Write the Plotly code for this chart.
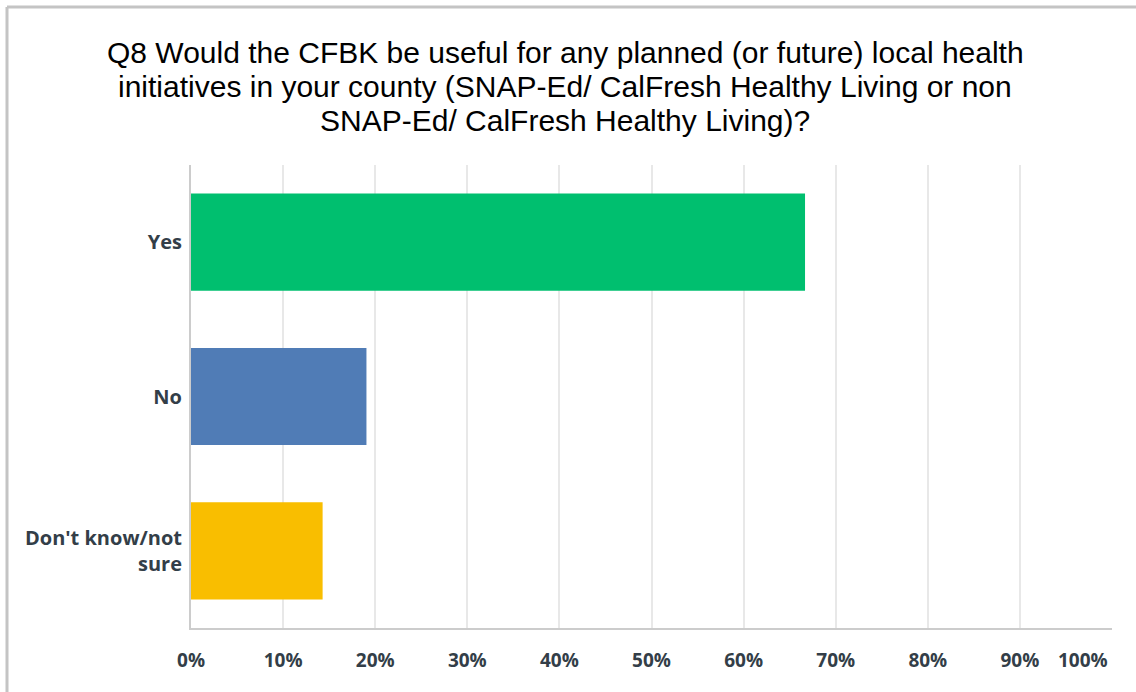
import plotly.graph_objects as go

categories = ["Yes", "No", "Don't know/not<br>sure"]
values = [66.67, 19.05, 14.29]
colors = ["#00BF6F", "#507CB6", "#F9BE00"]
tick_vals = [0, 10, 20, 30, 40, 50, 60, 70, 80, 90]
tick_text = ["0%", "10%", "20%", "30%", "40%", "50%", "60%", "70%", "80%", "90%"]
last_tick_val = 100
last_tick_text = "100%"
title_lines = [
    "Q8 Would the CFBK be useful for any planned (or future) local health",
    "initiatives in your county (SNAP-Ed/ CalFresh Healthy Living or non",
    "SNAP-Ed/ CalFresh Healthy Living)?",
]

W, H = 1136, 692
L, R, T, B = 191, 24, 165, 64
PW, PH = W - L - R, H - T - B

fig = go.Figure(go.Bar(
    x=values, y=categories, orientation="h",
    marker=dict(color=colors, line=dict(width=0)),
    width=0.63, hoverinfo="x+y",
))

tick_font = dict(family="Open Sans, sans-serif", size=19, color="#333e48", weight="bold")
cat_font = dict(family="Open Sans, sans-serif", size=20, color="#333e48", weight="bold")

annotations = []
for i, line in enumerate(title_lines):
    yc = 52 + 34 * i
    annotations.append(dict(
        text=line, xref="paper", yref="paper",
        x=(565 - L) / PW, y=(H - B - yc) / PH,
        xanchor="center", yanchor="middle", showarrow=False,
        font=dict(family="Liberation Sans, Arial, sans-serif", size=30, color="#000000"),
    ))
# last x tick label, pulled inside the figure as in the original
annotations.append(dict(
    text=last_tick_text, xref="x", yref="paper",
    x=last_tick_val, y=-32 / PH, xanchor="right", yanchor="middle",
    xshift=-2, showarrow=False, font=tick_font,
))

fig.update_layout(
    width=W, height=H,
    margin=dict(l=L, r=R, t=T, b=B, pad=0),
    paper_bgcolor="white", plot_bgcolor="white",
    showlegend=False,
    annotations=annotations,
    xaxis=dict(range=[0, 100], tickvals=tick_vals, ticktext=tick_text,
               showgrid=True, gridcolor="#e8e8e8", gridwidth=2,
               showline=True, linecolor="#cccccc", linewidth=2,
               zeroline=False, ticks="", ticklabelstandoff=14,
               tickfont=tick_font, automargin=False, fixedrange=True),
    yaxis=dict(range=[2.5, -0.5], showgrid=False,
               showline=True, linecolor="#cccccc", linewidth=2,
               zeroline=False, ticks="", ticklabelstandoff=3,
               tickfont=cat_font, automargin=False, fixedrange=True),
    shapes=[
        dict(type="line", xref="paper", yref="paper",
             x0=(7 - L) / PW, x1=(W - L) / PW,
             y0=(H - 7 - B) / PH, y1=(H - 7 - B) / PH,
             line=dict(color="#c4c4c4", width=3)),
        dict(type="line", xref="paper", yref="paper",
             x0=(7 - L) / PW, x1=(7 - L) / PW,
             y0=(H - 7 - B) / PH, y1=-B / PH,
             line=dict(color="#c4c4c4", width=3)),
    ],
)

fig.write_html("out.html")
